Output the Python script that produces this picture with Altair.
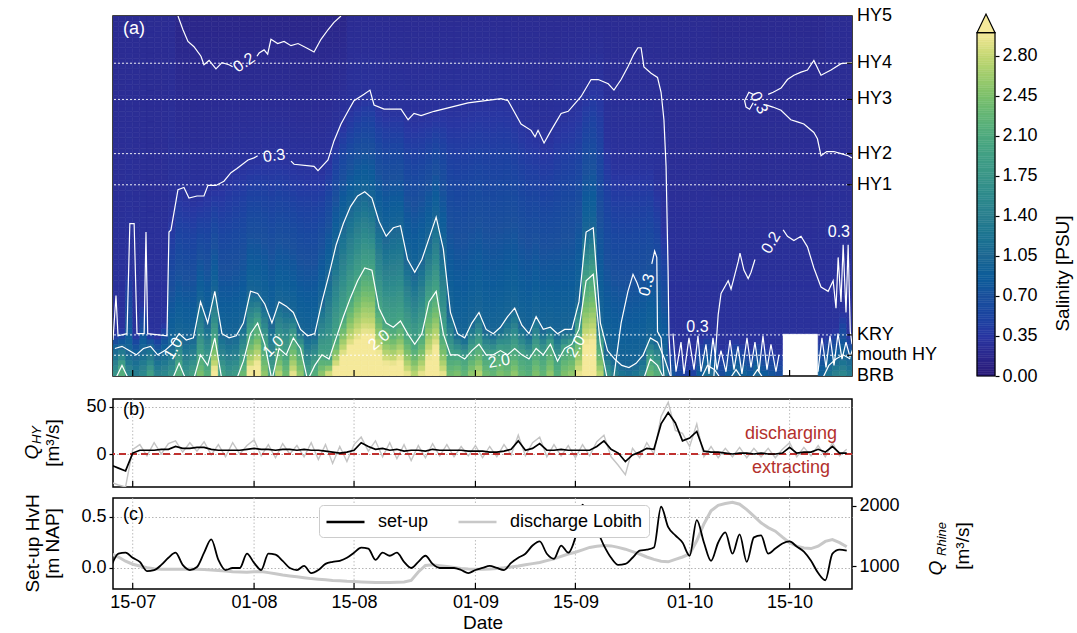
import altair as alt
import numpy as np
import pandas as pd

FONT = "Liberation Sans"
W, HA, HB, HC = 739, 360, 88, 91

# ---------------- shared time axis (days since 12-07 00:00) ----------------
tick_days = [3, 20, 34, 51, 65, 81, 95]
tick_labels = ["15-07", "01-08", "15-08", "01-09", "15-09", "01-10", "15-10"]
x_domain = [0.24, 103.74]

# ---------------- (a) salinity field, one value per day ----------------
s_bot = [1.8, 2.2, 1.6, 1.4, 1.6, 2.0, 1.5, 1.6, 1.8, 2.2,
         1.8, 2.0, 2.5, 2.2, 3.2, 2.0, 1.8, 1.9, 2.4, 3.2,
         3.3, 2.6, 2.0, 2.8, 2.4, 3.0, 2.6, 2.0, 2.2, 2.6,
         3.0, 3.3, 3.5, 3.6, 3.6, 3.6, 3.6, 3.5, 3.3, 3.3,
         3.4, 3.0, 2.8, 3.0, 3.3, 3.5, 3.0, 2.4, 2.5, 2.3,
         2.6, 2.8, 2.4, 2.3, 2.5, 2.4, 2.6, 2.3, 2.2, 2.5,
         2.3, 2.6, 2.2, 2.5, 2.6, 3.0, 3.5, 3.5, 2.8, 1.8,
         1.5, 1.3, 1.2, 1.3, 1.5, 2.4, 2.2, 1.4, 0.8, 0.6,
         0.5, 0.5, 0.9, 1.2, 1.1, 0.7, 0.9, 1.1, 1.0, 0.9,
         1.1, 0.9, 0.8, 0.7, 0.6, 0.6, 0.6, 0.6, 0.6, 1.0,
         1.3, 1.5, 1.6, 1.4]
h2 = [35.0, 35.5, 35.0, 35.0, 35.0, 35.2, 35.0, 35.0, 35.0, 35.6,
      35.0, 35.1, 36.0, 35.5, 36.8, 35.1, 35.0, 35.0, 35.7, 37.0,
      37.5, 36.5, 35.1, 36.3, 36.0, 36.8, 36.3, 35.1, 35.5, 36.0,
      35.8, 36.8, 37.8, 38.7, 39.5, 40.1, 40.0, 38.2, 37.5, 37.3,
      37.6, 37.0, 36.5, 37.0, 38.5, 39.0, 37.0, 36.0, 36.0, 35.8,
      36.2, 36.5, 36.0, 36.0, 36.2, 36.0, 36.3, 36.0, 35.8, 36.3,
      36.0, 36.5, 35.7, 36.3, 36.5, 37.2, 39.5, 39.8, 36.5, 35.0,
      35.0, 35.0, 35.0, 35.0, 35.0, 35.8, 35.5, 35.0, 35.0, 35.0,
      35.0, 35.0, 35.0, 35.0, 35.0, 35.0, 35.0, 35.0, 35.0, 35.0,
      35.0, 35.0, 35.0, 35.0, 35.0, 35.0, 35.0, 35.0, 35.0, 35.0,
      35.0, 35.0, 35.0, 35.0]
h1 = [36.3, 36.4, 36.2, 36.0, 36.3, 36.4, 36.0, 36.2, 36.5, 37.0,
      36.7, 36.8, 38.5, 37.5, 39.0, 37.0, 36.8, 36.9, 37.5, 39.0,
      38.9, 38.4, 37.5, 38.5, 38.3, 38.0, 37.2, 36.9, 37.0, 38.5,
      39.8, 41.2, 42.2, 43.0, 43.5, 43.7, 43.4, 42.3, 41.6, 42.0,
      42.1, 40.5, 39.9, 40.5, 41.5, 42.5, 41.0, 38.0, 37.0, 36.8,
      37.5, 38.0, 37.2, 37.0, 37.3, 37.8, 38.2, 37.4, 37.0, 37.8,
      37.2, 37.3, 37.0, 37.2, 37.2, 38.5, 41.8, 42.0, 37.5, 36.2,
      35.8, 35.5, 35.4, 35.6, 36.0, 36.8, 36.6, 35.8, 35.0, 35.0,
      35.0, 35.0, 35.0, 35.5, 35.3, 35.0, 35.0, 35.3, 35.0, 35.0,
      35.3, 35.0, 35.0, 35.0, 35.0, 35.0, 35.0, 35.0, 35.0, 35.0,
      35.5, 35.8, 36.0, 35.8]
h03 = [37.0, 37.2, 40.0, 37.0, 38.5, 37.0, 36.9, 37.5, 42.5, 43.8,
       43.6, 43.4, 43.5, 43.8, 44.0, 44.1, 44.5, 44.8, 45.0, 45.2,
       45.3, 45.4, 45.4, 45.4, 45.3, 45.1, 45.0, 45.0, 44.9, 44.8,
       45.3, 46.2, 47.0, 47.6, 48.0, 48.3, 48.4, 47.8, 47.6, 47.6,
       47.6, 47.2, 47.2, 47.3, 47.4, 47.5, 47.6, 47.6, 47.7, 47.8,
       47.9, 48.0, 48.0, 48.0, 48.1, 48.0, 47.6, 47.2, 46.8, 46.5,
       46.2, 46.3, 47.0, 47.4, 47.6, 48.0, 48.5, 48.9, 49.0, 46.0,
       45.0, 45.0, 45.0, 45.0, 45.0, 45.0, 44.0, 42.0, 36.5, 36.0,
       35.8, 36.0, 36.8, 37.0, 36.8, 36.3, 36.5, 36.8, 36.6, 36.4,
       36.7, 36.5, 36.3, 36.2, 36.5, 36.5, 36.5, 36.5, 36.5, 36.8,
       37.0, 37.2, 38.0, 37.0]
s_top = [0.22, 0.22, 0.22, 0.22, 0.22, 0.22, 0.22, 0.22, 0.22, 0.15,
         0.15, 0.15, 0.15, 0.15, 0.15, 0.15, 0.15, 0.15, 0.15, 0.15,
         0.15, 0.15, 0.15, 0.15, 0.15, 0.15, 0.15, 0.15, 0.15, 0.15,
         0.15, 0.15, 0.15, 0.22, 0.22, 0.22, 0.22, 0.22, 0.22, 0.22,
         0.22, 0.22, 0.22, 0.22, 0.22, 0.22, 0.22, 0.22, 0.22, 0.22,
         0.22, 0.22, 0.22, 0.22, 0.22, 0.22, 0.22, 0.22, 0.22, 0.22,
         0.22, 0.22, 0.22, 0.22, 0.22, 0.22, 0.22, 0.22, 0.22, 0.22,
         0.22, 0.22, 0.22, 0.22, 0.22, 0.22, 0.22, 0.22, 0.22, 0.22,
         0.22, 0.22, 0.22, 0.22, 0.20, 0.20, 0.20, 0.20, 0.20, 0.20,
         0.20, 0.20, 0.20, 0.20, 0.20, 0.20, 0.20, 0.20, 0.20, 0.20,
         0.22, 0.22, 0.22, 0.22]
missing_days = [94, 95, 96, 97, 98]
missing_below_km = 37.0

stations = ["HY5", "HY4", "HY3", "HY2", "HY1", "KRY", "mouth HY", "BRB"]
station_km = [52.0, 49.77, 48.06, 45.5, 44.03, 36.94, 35.98, 35.0]

# ---------------- (a) contour lines ----------------
c03a_day = [0.24, 0.66, 0.94, 2.2, 2.6, 3.2, 3.6, 4.6, 4.86, 5.1, 7.8, 8.08, 8.36, 9.34, 10.18,
            10.88, 12.0, 12.98, 13.54, 14.66, 15.78, 16.76, 17.6, 19.15, 19.99, 20.5]
c03a_km = [36.7, 38.8, 36.9, 37.0, 42.2, 42.2, 37.0, 37.0, 41.8, 37.0, 36.9, 41.8, 41.9, 43.8, 43.9,
           43.4, 43.5, 43.5, 44.0, 44.0, 44.2, 44.6, 44.8, 45.2, 45.3, 45.4]
c03b_day = [25.17, 25.6, 28.4, 28.95, 30.35, 31.19, 32.17, 33.15, 33.99, 35.4, 36.23, 36.8, 38.2,
            40.58, 41.57, 42.4, 43.39, 45.21, 47.6, 49.97, 54.59, 55.57, 57.39, 58.79, 59.35, 59.77,
            60.61, 61.6, 63.0, 64.0, 65.8, 67.2, 68.2, 69.6, 70.4, 71.4, 72.36, 73.2, 73.76, 74.2,
            74.6, 75.6, 76.5, 77.0, 77.4, 77.7, 77.98, 78.1, 78.4]
c03b_km = [45.15, 45.0, 44.9, 44.7, 45.2, 46.1, 46.9, 47.5, 48.0, 48.3, 48.5, 47.8, 47.6,
           47.6, 47.1, 47.4, 47.3, 47.5, 47.7, 47.9, 48.1, 48.0, 46.9, 46.6, 46.3, 46.6,
           46.0, 46.6, 47.4, 47.5, 48.2, 49.0, 49.0, 48.8, 48.5, 49.0, 49.6, 50.2, 50.5, 50.5,
           49.6, 49.3, 49.1, 48.4, 47.1, 44.9, 40.0, 37.0, 35.0]
c02a_day = [9.34, 10.04, 10.74, 11.58, 12.56, 12.98, 13.7, 14.66, 15.5, 16.48, 17.0]
c02a_km = [52.0, 51.35, 50.8, 50.55, 50.1, 49.7, 49.9, 49.5, 49.8, 49.7, 49.6]
c02b_day = [20.4, 20.7, 21.4, 21.9, 22.36, 23.3, 24.2, 25.17, 26.15, 27.3, 28.4, 29.37, 30.35, 31.19, 32.17]
c02b_km = [50.1, 50.25, 50.4, 50.2, 50.9, 50.7, 50.8, 50.6, 50.7, 50.5, 50.3, 50.9, 51.35, 51.7, 52.0]
c03e_day = [103.74, 102.2, 100.8, 99.4, 98.4, 97.5, 96.6, 95.6, 94.7, 93.8, 92.7, 92.0]
c03e_km = [49.8, 49.75, 49.45, 49.2, 49.9, 49.45, 49.35, 49.2, 49.0, 48.6, 48.4, 48.3]
c03f_day = [89.9, 89.3, 88.7, 88.9, 89.4, 89.9]
c03f_km = [48.3, 48.4, 48.0, 47.7, 47.6, 47.9]
c03g_day = [91.7, 92.66, 93.8, 95.17, 96.1, 97.0, 97.7, 98.4, 98.9, 99.4, 100.2, 101.2, 102.2, 103.2, 103.74]
c03g_km = [47.8, 47.7, 47.55, 47.1, 47.0, 46.9, 46.7, 46.5, 46.2, 45.4, 45.6, 45.6, 45.5, 45.4, 45.3]
c02c_day = [84.4, 85.0, 85.4, 86.4, 86.8, 87.8, 88.05, 88.6, 89.2, 89.6, 90.15]
c02c_km = [35.0, 37.9, 38.9, 39.5, 39.1, 40.4, 40.8, 40.0, 39.6, 39.9, 40.5]
c02d_day = [94.1, 94.7, 95.6, 96.6, 97.5, 98.4, 99.4, 100.4, 101.1, 101.5, 101.8, 102.2, 102.5,
            102.9, 103.2, 103.5, 103.74]
c02d_km = [41.9, 41.6, 41.4, 41.6, 41.1, 40.1, 39.2, 39.0, 39.5, 38.2, 40.6, 38.5, 41.2,
           38.0, 41.2, 37.1, 36.5]
c03j_day = [70.4, 71.4, 72.36, 73.07, 73.63, 74.05]
c03j_km = [35.0, 37.5, 39.0, 39.8, 39.4, 39.0]
c03k_day = [75.7, 76.1, 76.4, 76.5, 77.0, 77.4]
c03k_km = [40.3, 40.9, 40.6, 37.1, 36.8, 35.0]
c03l_day = [78.67, 79.09, 79.79, 80.21, 80.91, 81.61, 82.17, 82.59, 83.29, 83.71, 84.27, 84.83, 85.39,
            86.09, 86.65, 87.21, 87.77, 88.33, 89.03, 89.59, 90.15, 90.71, 91.27, 91.83, 92.39, 93.09, 93.51]
c03l_km = [37.0, 35.2, 36.6, 35.1, 36.8, 35.3, 36.9, 35.2, 36.5, 35.1, 36.8, 35.3, 36.2,
           35.2, 36.7, 35.3, 36.4, 35.1, 36.8, 35.4, 36.6, 35.2, 36.9, 35.3, 36.5, 35.2, 36.0]
c03m_day = [98.98, 99.53, 100.1, 100.66, 101.22, 101.78, 102.34, 102.9, 103.46, 103.88]
c03m_km = [35.2, 36.8, 35.4, 36.9, 35.5, 37.0, 35.8, 36.6, 35.9, 36.3]

lab_day = [18.6, 22.8, 90.7, 92.4, 101.9, 75.0, 8.7, 22.7, 37.5, 54.3, 65.1, 82.1]
lab_km = [49.8, 45.4, 47.9, 41.3, 41.8, 39.3, 36.3, 36.4, 36.7, 35.7, 36.4, 37.3]
lab_txt = ["0.2", "0.3", "0.3", "0.2", "0.3", "0.3", "1.0", "1.0", "2.0", "2.0", "2.0", "0.3"]
lab_ang = [325, 352, 65, 300, 0, 285, 300, 315, 320, 350, 300, 0]

sal_stops = [0, 0.35, 0.7, 1.05, 1.4, 1.75, 2.1, 2.45, 2.8, 3.0]
sal_colors = ["#2a1a78", "#2936a2", "#1b509c", "#1f6893", "#2b7f8e", "#3b9588",
              "#4faa7e", "#7cc06b", "#c4d873", "#f5e99a"]
cbar_ticks = [0, 0.35, 0.7, 1.05, 1.4, 1.75, 2.1, 2.45, 2.8]

# ---------------- (b) Q_HY, one value per day ----------------
qhy_smooth = [-12, -15, -18, 1, 4, 4, 4, 5, 5, 8,
              6, 6, 7, 7, 5, 4, 4, 4, 4, 5,
              6, 5, 5, 4, 5, 5, 4, 5, 4, 4,
              3, 2, 1, 2, 4, 12, 8, 5, 6, 4,
              5, 3, 4, 4, 3, 5, 4, 4, 4, 4,
              3, 3, 3, 2, 2, 3, 5, 14, 4, 6,
              11, 4, 4, 5, 4, 4, 4, 4, 8, 14,
              5, 1, -8, -1, 2, 6, 5, 32, 44, 33,
              14, 17, 24, 3, 2, 2, 1, 0, 1, 1,
              0, 1, 0, 0, 1, 7, 1, 2, 2, 5,
              2, 8, 1, 1]
qhy_raw = [-30, -33, -35, 5, 10, -2, 12, 0, 11, 14,
           2, 12, 3, 13, -1, 10, -3, 12, 0, 9,
           15, -2, 10, -4, 11, 0, 9, -3, 12, -6,
           10, -10, 8, -8, 10, 18, 3, 14, -3, 12,
           -5, 10, -7, 9, -4, 11, -2, 10, -3, 8,
           -2, 9, -4, 8, -3, 10, -1, 20, -2, 12,
           18, -3, 10, -2, 9, -4, 10, -2, 13, 20,
           -3, -12, -22, 6, -4, 12, 0, 40, 55, 25,
           22, 8, 32, -3, 8, -4, 6, -3, 7, -4,
           6, -3, 6, -4, 5, 12, -3, 7, -2, 9,
           -3, 12, -2, 5]

# ---------------- (c) set-up and Rhine discharge, one value per day ----------------
setup = [0.02, 0.14, 0.15, 0.10, 0.06, -0.03, -0.02, 0.03, 0.10, 0.15,
         0.03, -0.02, 0.01, 0.15, 0.28, 0.08, -0.02, 0.00, 0.00, 0.14,
         0.05, -0.02, 0.14, 0.13, 0.07, 0.00, -0.02, 0.02, -0.05, -0.02,
         0.04, 0.06, 0.07, 0.10, 0.15, 0.20, 0.19, 0.08, 0.15, 0.12,
         0.15, 0.06, 0.00, 0.06, 0.12, 0.04, 0.00, 0.00, 0.00, -0.02,
         -0.05, -0.02, 0.00, 0.02, 0.00, -0.02, 0.05, 0.10, 0.14, 0.22,
         0.26, 0.14, 0.09, 0.22, 0.15, 0.30, 0.62, 0.45, 0.37, 0.22,
         0.10, 0.03, 0.04, 0.10, 0.17, 0.18, 0.20, 0.60, 0.40, 0.32,
         0.25, 0.12, 0.47, 0.25, 0.07, 0.25, 0.35, 0.14, 0.33, 0.06,
         0.30, 0.32, 0.14, 0.19, 0.24, 0.26, 0.21, 0.16, 0.07, -0.05,
         -0.12, 0.14, 0.18, 0.17]
lobith = [1200, 1150, 1080, 1030, 1000, 970, 955, 945, 945, 945,
          945, 950, 945, 940, 935, 925, 915, 905, 900, 895,
          905, 910, 890, 870, 850, 835, 820, 805, 790, 780,
          770, 760, 755, 745, 740, 735, 730, 725, 725, 725,
          730, 735, 760, 900, 1010, 1020, 1005, 990, 975, 960,
          950, 945, 945, 950, 960, 970, 985, 1000, 1020, 1040,
          1060, 1090, 1120, 1160, 1200, 1230, 1270, 1310, 1330, 1340,
          1335, 1310, 1280, 1240, 1200, 1150, 1110, 1080, 1070, 1110,
          1150, 1200, 1420, 1700, 1920, 2010, 2040, 2060, 2030, 1940,
          1830, 1720, 1640, 1580, 1480, 1390, 1330, 1300, 1290, 1330,
          1410, 1440, 1390, 1320]
series_names = ["set-up", "discharge Lobith"]
series_colors = ["black", "#c8c8c8"]

# ======================= tables =======================
n = len(s_bot)
edges = np.round(np.arange(35.0, 52.0001, 0.25), 3)
rows = []
for i in range(n):
    pd_ = [35.0]
    ps_ = [s_bot[i]]
    for h, lv in ((h2[i], 2.0), (h1[i], 1.0), (h03[i], 0.3)):
        if ps_[-1] > lv and h > pd_[-1] + 0.05:
            pd_.append(h)
            ps_.append(lv)
    pd_.append(52.0)
    ps_.append(s_top[i])
    for k in range(len(edges) - 1):
        d0, d1 = float(edges[k]), float(edges[k + 1])
        if i in missing_days and d1 <= missing_below_km:
            continue
        dc = 0.5 * (d0 + d1)
        rows.append((i, i + 1, d0, d1, round(float(np.interp(dc, pd_, ps_)), 3)))
field = pd.DataFrame(rows, columns=["t0", "t1", "d0", "d1", "S"])

seg_rows = []
for name, dd, kk in [("a", c03a_day, c03a_km), ("b", c03b_day, c03b_km), ("c", c02a_day, c02a_km),
                     ("d", c02b_day, c02b_km), ("e", c03e_day, c03e_km), ("f", c03f_day, c03f_km),
                     ("g", c03g_day, c03g_km), ("h", c02c_day, c02c_km), ("i", c02d_day, c02d_km),
                     ("j", c03j_day, c03j_km), ("k", c03k_day, c03k_km), ("l", c03l_day, c03l_km),
                     ("m", c03m_day, c03m_km)]:
    for j, (d, k) in enumerate(zip(dd, kk)):
        seg_rows.append((name, j, d, k))
for name, arr, lv in (("h1", h1, 1.0), ("h2", h2, 2.0)):
    for i in range(n):
        km = arr[i] if (s_bot[i] > lv and arr[i] > 35.05) else 34.8
        seg_rows.append((name, i, i + 0.5, km))
segs = pd.DataFrame(seg_rows, columns=["seg", "j", "day", "km"])

labels_df = pd.DataFrame({"day": lab_day, "km": lab_km, "txt": lab_txt, "ang": lab_ang})
st_df = pd.DataFrame({"name": stations, "km": station_km})
st_inner = st_df[~st_df["name"].isin(["HY5", "BRB"])]
tick_df = pd.DataFrame({"day": tick_days, "lab": tick_labels})

ts = pd.DataFrame({"day": list(range(n)), "q_s": qhy_smooth, "q_r": qhy_raw})
df_set = pd.DataFrame({"day": list(range(n)), "v": setup, "series": series_names[0]})
df_lob = pd.DataFrame({"day": list(range(n)), "v": lobith, "series": series_names[1]})

cb_v = np.round(np.arange(0, 3.0, 0.02), 2)
cb = pd.DataFrame({"v0": cb_v, "v1": np.round(cb_v + 0.02, 2), "S": np.round(cb_v + 0.01, 3),
                   "c0": 0.0, "c1": 1.0})
cb_frame = pd.DataFrame({"v0": [0.0], "v1": [3.0], "c0": [0.0], "c1": [1.0]})
cb_tri = pd.DataFrame({"cx": [0.0, 0.5, 1.0], "vy": [3.0, 3.163, 3.0], "vy2": [3.0, 3.0, 3.0]})

# ======================= scales =======================
xs = alt.Scale(domain=x_domain, nice=False, zero=False)
ys_a = alt.Scale(domain=[35, 52], nice=False, zero=False)
ys_b = alt.Scale(domain=[-35.1, 58.5], nice=False, zero=False)
ys_c = alt.Scale(domain=[-0.206, 0.686], nice=False, zero=False)
ys_c2 = alt.Scale(domain=[617, 2133], nice=False, zero=False)
sal_scale = alt.Scale(domain=sal_stops, range=sal_colors, clamp=True)
cs = alt.Scale(domain=series_names, range=series_colors)
label_expr = " : ".join(f"datum.value == {d} ? '{l}'" for d, l in zip(tick_days, tick_labels)) + " : ''"


def txt(s, x, y, **kw):
    return alt.Chart(pd.DataFrame({"t": [s]})).mark_text(**kw).encode(
        x=alt.value(x), y=alt.value(y), text="t:N")


# ======================= panel (a) =======================
yaxis_a = alt.Axis(values=[35, 37.5, 40, 42.5, 45, 47.5, 50], format=".1f",
                   title=["Distance from Hoek van Holland", "[km]"], titleX=-52, titleY=HA / 2,
                   titleAngle=270, titleBaseline="bottom", titleAlign="center", titleLineHeight=21,
                   tickSize=4, labelPadding=3)
heat = alt.Chart(field).mark_rect(strokeWidth=0.6, clip=True).encode(
    x=alt.X("t0:Q", scale=xs, axis=None), x2=alt.X2("t1"),
    y=alt.Y("d0:Q", scale=ys_a, axis=yaxis_a), y2=alt.Y2("d1"),
    color=alt.Color("S:Q", scale=sal_scale, legend=None),
    stroke=alt.Stroke("S:Q", scale=sal_scale, legend=None))
clines = alt.Chart(segs).mark_line(color="white", strokeWidth=1.2, clip=True).encode(
    x=alt.X("day:Q", scale=xs, axis=None), y=alt.Y("km:Q", scale=ys_a, axis=None),
    detail="seg:N", order="j:Q")
dotted = alt.Chart(st_inner).mark_rule(color="white", strokeDash=[2, 2], strokeWidth=1, opacity=0.9).encode(
    y=alt.Y("km:Q", scale=ys_a, axis=None))
clabels = alt.Chart(labels_df).mark_text(color="white", fontSize=16, baseline="middle", align="center").encode(
    x=alt.X("day:Q", scale=xs, axis=None), y=alt.Y("km:Q", scale=ys_a, axis=None), text="txt:N",
    angle=alt.Angle("ang:Q", scale=None))
xt_a = alt.Chart(tick_df).mark_rule(color="black", strokeWidth=1.2).encode(
    x=alt.X("day:Q", scale=xs, axis=None), y=alt.value(HA), y2=alt.value(HA - 6))
st_labels = alt.Chart(st_df).mark_text(align="left", baseline="middle", fontSize=18, color="black").encode(
    x=alt.value(W + 5), y=alt.Y("km:Q", scale=ys_a, axis=None), text="name:N")
st_ticks = alt.Chart(st_inner).mark_rule(color="black", strokeWidth=1.2).encode(
    x=alt.value(W - 5), x2=alt.value(W), y=alt.Y("km:Q", scale=ys_a, axis=None))
a_lab = txt("(a)", 10, 13, align="left", baseline="middle", fontSize=18, color="white")
# invisible spacer below panel (a): sets the gap to panel (b)
a_gap = alt.Chart(pd.DataFrame({"g": [0]})).mark_rule(color="white", strokeOpacity=0, opacity=0).encode(
    x=alt.value(0), y=alt.value(HA), y2=alt.value(HA + 16))
main_a = alt.layer(heat, clines, dotted, clabels, xt_a, st_labels, st_ticks, a_lab, a_gap)

cbx = alt.Scale(domain=[0, 1], range=[864, 882])
cby = alt.Scale(domain=[0, 3.146], nice=False, zero=False)
cb_axis = alt.Axis(orient="right", offset=143, values=cbar_ticks, format=".2f", title="Salinity [PSU]",
                   titleAngle=270, titleBaseline="top", titleAlign="center", titleY=257, titlePadding=16,
                   tickSize=4, labelPadding=3)
cb_cells = alt.Chart(cb).mark_rect(strokeWidth=0.5).encode(
    x=alt.X("c0:Q", scale=cbx, axis=None), x2=alt.X2("c1"),
    y=alt.Y("v0:Q", scale=cby, axis=cb_axis), y2=alt.Y2("v1"),
    color=alt.Color("S:Q", scale=sal_scale, legend=None),
    stroke=alt.Stroke("S:Q", scale=sal_scale, legend=None))
cb_box = alt.Chart(cb_frame).mark_rect(filled=False, color="black", strokeWidth=1.2).encode(
    x=alt.X("c0:Q", scale=cbx, axis=None), x2=alt.X2("c1"),
    y=alt.Y("v0:Q", scale=cby, axis=cb_axis), y2=alt.Y2("v1"))
cb_arrow = alt.Chart(cb_tri).mark_area(color=sal_colors[-1], stroke="black", strokeWidth=1.2).encode(
    x=alt.X("cx:Q", scale=cbx, axis=None),
    y=alt.Y("vy:Q", scale=cby, axis=cb_axis), y2=alt.Y2("vy2"))
cbar = alt.layer(cb_cells, cb_box, cb_arrow)

panel_a = alt.layer(main_a, cbar).resolve_scale(x="independent", y="independent").properties(
    width=W, height=HA)

# ======================= panel (b) =======================
yaxis_b = alt.Axis(values=[0, 50], grid=True, gridDash=[1.5, 2], gridColor="#b5b5b5", title=None,
                   tickSize=4, labelPadding=3)
vgrid_b = alt.Chart(tick_df).mark_rule(color="#b5b5b5", strokeDash=[1.5, 2], strokeWidth=0.9).encode(
    x=alt.X("day:Q", scale=xs, axis=None))
raw_b = alt.Chart(ts).mark_line(color="#c4c4c4", strokeWidth=1.4, clip=True).encode(
    x=alt.X("day:Q", scale=xs, axis=None), y=alt.Y("q_r:Q", scale=ys_b, axis=yaxis_b))
smooth_b = alt.Chart(ts).mark_line(color="black", strokeWidth=1.7, clip=True).encode(
    x=alt.X("day:Q", scale=xs, axis=None), y=alt.Y("q_s:Q", scale=ys_b, axis=yaxis_b))
zero_b = alt.Chart(pd.DataFrame({"z": [0]})).mark_rule(color="#c0312f", strokeDash=[7, 4], strokeWidth=1.8).encode(
    y=alt.Y("z:Q", scale=ys_b, axis=yaxis_b))
ann_b = alt.Chart(pd.DataFrame({"day": [95.2, 95.2], "q": [21, -15], "t": ["discharging", "extracting"]})).mark_text(
    fontSize=18, color="#b3302c", align="center", baseline="middle").encode(
    x=alt.X("day:Q", scale=xs, axis=None), y=alt.Y("q:Q", scale=ys_b, axis=yaxis_b), text="t:N")
xt_b = alt.Chart(tick_df).mark_rule(color="black", strokeWidth=1.2).encode(
    x=alt.X("day:Q", scale=xs, axis=None), y=alt.value(HB), y2=alt.value(HB - 6))
b_lab = txt("(b)", 10, 11, align="left", baseline="middle", fontSize=18, color="black")
b_q = txt("Q", -81, 53, align="center", baseline="middle", fontSize=19, fontStyle="italic", angle=270)
b_sub = txt("HY", -76, 36, align="center", baseline="middle", fontSize=13, fontStyle="italic", angle=270)
b_unit = txt("[m³/s]", -60, 44, align="center", baseline="middle", fontSize=19, angle=270)
panel_b = alt.layer(vgrid_b, raw_b, zero_b, smooth_b, ann_b, xt_b, b_lab, b_q, b_sub, b_unit).properties(
    width=W, height=HB)

# ======================= panel (c) =======================
xaxis_c = alt.Axis(values=tick_days, labelExpr=label_expr, title="Date", ticks=False, labelPadding=4,
                   titlePadding=2, grid=False, labelFlush=False)
yaxis_c = alt.Axis(orient="left", values=[0, 0.5], format=".1f", grid=True, gridDash=[1.5, 2],
                   gridColor="#b5b5b5", title=None, tickSize=4, labelPadding=3)
yaxis_c2 = alt.Axis(orient="right", values=[1000, 2000], format="d", grid=False, title=None,
                    tickSize=4, labelPadding=3)
legend_c = alt.Legend(orient="none", legendX=206, legendY=7, direction="horizontal", title=None,
                      symbolType="M-1,0L3,0", symbolSize=361, symbolStrokeWidth=2.4, labelFontSize=18,
                      labelFont=FONT, fillColor="white", strokeColor="#cccccc", cornerRadius=4,
                      padding=6, columnPadding=24, labelOffset=31, labelLimit=300)
vgrid_c = alt.Chart(tick_df).mark_rule(color="#b5b5b5", strokeDash=[1.5, 2], strokeWidth=0.9).encode(
    x=alt.X("day:Q", scale=xs, axis=xaxis_c))
lob_c = alt.Chart(df_lob).mark_line(strokeWidth=3, clip=True).encode(
    x=alt.X("day:Q", scale=xs, axis=xaxis_c), y=alt.Y("v:Q", scale=ys_c2, axis=yaxis_c2),
    color=alt.Color("series:N", scale=cs, legend=legend_c))
set_c = alt.Chart(df_set).mark_line(strokeWidth=1.8, clip=True, interpolate="monotone").encode(
    x=alt.X("day:Q", scale=xs, axis=xaxis_c), y=alt.Y("v:Q", scale=ys_c, axis=yaxis_c),
    color=alt.Color("series:N", scale=cs, legend=legend_c))
xt_c = alt.Chart(tick_df).mark_rule(color="black", strokeWidth=1.2).encode(
    x=alt.X("day:Q", scale=xs, axis=xaxis_c), y=alt.value(HC), y2=alt.value(HC - 6))
c_lab = txt("(c)", 10, 17, align="left", baseline="middle", fontSize=18, color="black")
c_t1 = txt("Set-up HvH", -80, HC / 2, align="center", baseline="middle", fontSize=19, angle=270)
c_t2 = txt("[m NAP]", -60, HC / 2, align="center", baseline="middle", fontSize=19, angle=270)
c_q = txt("Q", 823, 70, align="center", baseline="middle", fontSize=19, fontStyle="italic", angle=270)
c_sub = txt("Rhine", 829, 41, align="center", baseline="middle", fontSize=13, fontStyle="italic", angle=270)
c_unit = txt("[m³/s]", 850, 48, align="center", baseline="middle", fontSize=19, angle=270)
panel_c = alt.layer(vgrid_c, lob_c, set_c, xt_c, c_lab, c_t1, c_t2, c_q, c_sub, c_unit).resolve_scale(
    y="independent").properties(width=W, height=HC)

chart = alt.vconcat(panel_a, panel_b, panel_c, spacing=4).resolve_scale(
    color="independent", stroke="independent"
).configure(
    font=FONT, padding={"left": 22, "top": 6, "right": 1, "bottom": 0}
).configure_view(
    stroke="black", strokeWidth=1.5
).configure_axis(
    domain=False, labelFont=FONT, titleFont=FONT, labelFontSize=18, titleFontSize=19,
    titleFontWeight="normal", labelColor="black", titleColor="black", tickColor="black",
    tickWidth=1.2, grid=False
)

chart.save("out.html", embed_options={"renderer": "svg", "actions": False})
